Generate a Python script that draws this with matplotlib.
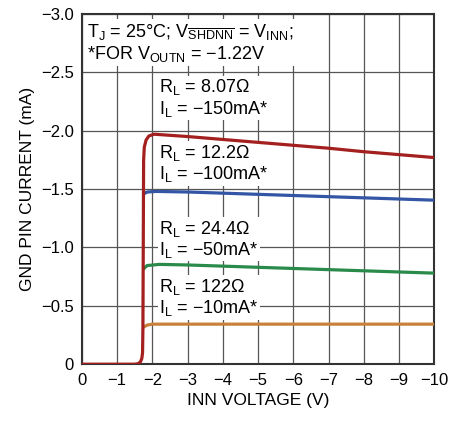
import matplotlib
matplotlib.use("Agg")
import matplotlib.pyplot as plt

plt.rcParams['font.family'] = ['Liberation Sans Narrow', 'Liberation Sans', 'DejaVu Sans']
plt.rcParams['mathtext.fontset'] = 'custom'
plt.rcParams['mathtext.rm'] = 'Liberation Sans'
plt.rcParams['mathtext.it'] = 'Liberation Sans'
plt.rcParams['mathtext.default'] = 'regular'

# curves (INN voltage in V, GND pin current in mA)
x_red = [0, -1.0, -1.5, -1.6, -1.66, -1.7, -1.72, -1.73, -1.74, -1.75, -1.77, -1.82, -1.9, -2.05, -3, -4, -5, -6, -7, -8, -9, -10]
y_red = [0, 0, 0, -0.005, -0.02, -0.05, -0.1, -0.3, -1.0, -1.75, -1.86, -1.92, -1.955, -1.97, -1.95, -1.925, -1.9, -1.875, -1.85, -1.82, -1.795, -1.77]
x_blue = [-1.76, -1.85, -2.1, -3, -4, -5, -6, -7, -8, -9, -10]
y_blue = [-1.46, -1.475, -1.48, -1.475, -1.465, -1.455, -1.445, -1.435, -1.425, -1.415, -1.405]
x_green = [-1.76, -1.85, -2.2, -3, -4, -5, -6, -7, -8, -9, -10]
y_green = [-0.82, -0.845, -0.855, -0.85, -0.84, -0.83, -0.82, -0.81, -0.80, -0.79, -0.78]
x_orange = [-1.76, -1.85, -2.0, -3, -4, -5, -6, -7, -8, -9, -10]
y_orange = [-0.32, -0.335, -0.343, -0.343, -0.343, -0.343, -0.343, -0.343, -0.343, -0.343, -0.343]

labels = [(r'$R_L$ = 8.07$\Omega$' + '\n' + r'$I_L$ = $-$150mA*', -2.2, -2.28),
          (r'$R_L$ = 12.2$\Omega$' + '\n' + r'$I_L$ = $-$100mA*', -2.2, -1.72),
          (r'$R_L$ = 24.4$\Omega$' + '\n' + r'$I_L$ = $-$50mA*', -2.2, -1.07),
          (r'$R_L$ = 122$\Omega$' + '\n' + r'$I_L$ = $-$10mA*', -2.2, -0.57)]

fig = plt.figure(figsize=(4.63, 4.23), dpi=100)
ax = fig.add_axes([0.177, 0.139, 0.761, 0.828])

ax.plot(x_orange, y_orange, color='#c8803a', lw=2.3, zorder=4, solid_joinstyle='round')
ax.plot(x_green, y_green, color='#2a8a4a', lw=2.3, zorder=4, solid_joinstyle='round')
ax.plot(x_blue, y_blue, color='#3355a5', lw=2.3, zorder=4, solid_joinstyle='round')
ax.plot(x_red, y_red, color='#a3201f', lw=2.3, zorder=5, solid_joinstyle='round')

ax.set_xlim(0, -10)
ax.set_ylim(0, -3.0)
ax.set_xticks(range(0, -11, -1))
ax.set_xticklabels(['0'] + ['\u2212%d' % i for i in range(1, 11)])
ax.set_yticks([0, -0.5, -1.0, -1.5, -2.0, -2.5, -3.0])
ax.set_yticklabels(['0', '\u22120.5', '\u22121.0', '\u22121.5', '\u22122.0', '\u22122.5', '\u22123.0'])
ax.tick_params(labelsize=12, length=0, pad=6)
ax.grid(True, color='#555555', lw=0.9)
for s in ax.spines.values():
    s.set_linewidth(1.5)
    s.set_color('#333333')

ax.set_xlabel('INN VOLTAGE (V)', fontsize=12.5)
ax.set_ylabel('GND PIN CURRENT (mA)', fontsize=12.5)

for txt, xx, yy in labels:
    ax.text(xx, yy, txt, fontsize=13, va='center', ha='left', linespacing=1.1,
            bbox=dict(fc='white', ec='none', pad=1), zorder=3)

ax.text(-0.15, -2.93, r'$T_J$ = 25°C; $V_{\overline{SHDNN}}$ = $V_{INN}$;' + '\n' + r'*FOR $V_{OUTN}$ = $-$1.22V',
        fontsize=13, va='top', ha='left', linespacing=1.1,
        bbox=dict(fc='white', ec='none', pad=2), zorder=3)

fig.savefig('out.png', dpi=100)
